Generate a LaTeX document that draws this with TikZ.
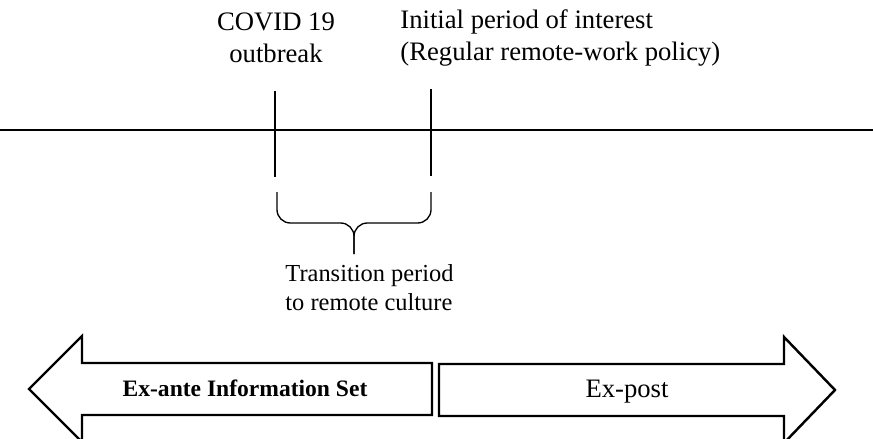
\documentclass[tikz,border=0pt]{standalone}
\usepackage{fontspec}
\setmainfont{Liberation Serif}
\begin{document}
\begin{tikzpicture}[x=0.45pt, y=-0.45pt]
      \tikzstyle{thinline} = [line width=0.6pt]
      \tikzstyle{eventtext} = [inner sep=0pt, font=\fontsize{12}{14.4}\selectfont]
      \tikzstyle{bigarrow} = [draw=black, line width=1.1pt, fill=white, line join=miter]
      \clip (0,0) rectangle (873,439);
      \coordinate (time-start) at (0,130);
      \coordinate (time-end) at (873,130);
      \coordinate (covid-top) at (275,91);
      \coordinate (covid-bot) at (275,177);
      \coordinate (initial-top) at (431,89);
      \coordinate (initial-bot) at (431,176);
      \coordinate (brace-l) at (277,192);
      \coordinate (brace-r) at (431,192);
      \coordinate (brace-mid) at (354,223);
      \coordinate (brace-tip) at (354,254);
      \node[eventtext, align=center] (covid) at (276,38) {COVID 19\\outbreak};
      \node[eventtext, align=left, anchor=west] (initial) at (400,38) {Initial period of interest\\(Regular remote-work policy)};
      \node[eventtext, align=left, anchor=west, font=\fontsize{11}{13}\selectfont] (transition) at (285,288) {Transition period\\to remote culture};
      \draw[thinline] (time-start) -- (time-end);
      \draw[thinline] (covid-top) -- (covid-bot);
      \draw[thinline] (initial-top) -- (initial-bot);
      \draw[thinline, rounded corners=6] (brace-l) |- (brace-mid) -- (brace-tip);
      \draw[thinline, rounded corners=6] (brace-r) |- (brace-mid) -- (brace-tip);
      \draw[bigarrow] (432,363) -- (82,363) -- (82,336) -- (29,389) -- (82,442) -- (82,415) -- (432,415) -- cycle;
      \draw[bigarrow] (439,364) -- (784,364) -- (784,337) -- (835,390) -- (784,443) -- (784,416) -- (439,416) -- cycle;
      \node[eventtext, font=\fontsize{10.6}{12}\selectfont\bfseries] (exante) at (245,388) {Ex-ante Information Set};
      \node[eventtext] (expost) at (627,392) {Ex-post};
  \end{tikzpicture}
\end{document}
